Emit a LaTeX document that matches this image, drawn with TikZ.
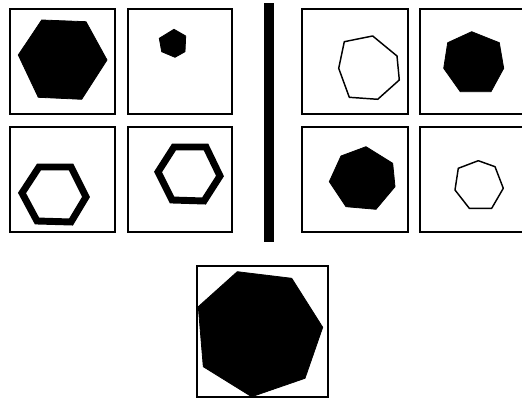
\documentclass[tikz,border=0pt]{standalone}
\begin{document}
\begin{tikzpicture}[x=0.75pt,y=-0.75pt,
  panel/.style={draw=black,line width=1.6pt},
  solid shape/.style={fill=black,draw=black,line width=0.6pt,line join=round},
  ring shape/.style={draw=black,line width=5.2pt,line join=miter},
  thin shape/.style={draw=black,line width=1.1pt,line join=round}]
\useasboundingbox (0,0) rectangle (522,402);
\fill[white] (0,0) rectangle (522,402);
% panels
\draw[panel] (10,9) rectangle (115,114);
\draw[panel] (128,9) rectangle (232,114);
\draw[panel] (10,127) rectangle (115,232);
\draw[panel] (128,127) rectangle (232,232);
\draw[panel] (302,9) rectangle (408,114);
\draw[panel] (420,9) rectangle (535,114);
\draw[panel] (302,127) rectangle (408,232);
\draw[panel] (420,127) rectangle (535,232);
% divider
\fill[black] (264,3) rectangle (274,242);
% left group
\fill[solid shape] (18.3,55) -- (41.7,20) -- (86,21.7) -- (107,60) -- (81.7,99.3) -- (38.3,97.3) -- cycle;
\fill[solid shape] (174,29.3) -- (185.7,36) -- (185,51.7) -- (175,57.3) -- (161.7,51.7) -- (159.3,38.3) -- cycle;
\draw[ring shape] (22,193) -- (39,167) -- (71,167) -- (86,197) -- (71,222) -- (37,221) -- cycle;
\draw[ring shape] (158,172) -- (174,147) -- (206,147) -- (220,176) -- (204,201) -- (172,200) -- cycle;
% right group
\draw[thin shape] (338.7,68.3) -- (344.3,41.7) -- (372.7,36) -- (397,56) -- (399.3,80) -- (377.7,99.3) -- (349.3,97.3) -- cycle;
\fill[solid shape] (443.7,68.3) -- (447.7,42.7) -- (471.7,31.7) -- (499.3,42.7) -- (503.7,68.3) -- (491,91.7) -- (460.3,91.7) -- cycle;
\fill[solid shape] (329.3,181.7) -- (341,156) -- (366,146.7) -- (392.7,163.3) -- (395,186.7) -- (376,209.3) -- (346,206.7) -- cycle;
\draw[thin shape] (478.3,160.7) -- (495,166.7) -- (503.3,188.3) -- (491.7,208.3) -- (469.3,208.3) -- (455,190) -- (458.3,168.3) -- cycle;
% answer panel
\begin{scope}
\clip (197,266) rectangle (328,397);
\fill[solid shape] (198.3,306.7) -- (237.3,271.7) -- (291.7,278.3) -- (322.7,327.3) -- (305,378.3) -- (251.7,396.7) -- (203.3,366.7) -- cycle;
\end{scope}
\draw[panel] (197,266) rectangle (328,397);
\end{tikzpicture}
\end{document}
